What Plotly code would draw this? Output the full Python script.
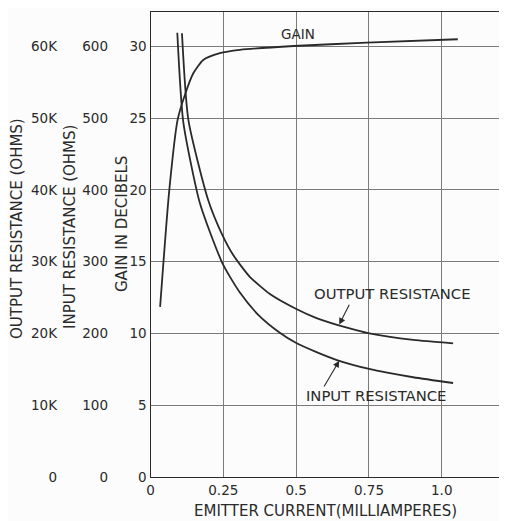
import plotly.graph_objects as go

# ---- data ----
current_gain = [0.033, 0.064, 0.093, 0.118, 0.147, 0.181, 0.238, 0.307, 0.492, 0.742, 1.055]
gain_db = [11.85, 19.88, 24.88, 26.62, 28.13, 29.06, 29.53, 29.76, 30.03, 30.26, 30.5]

current_in = [0.092, 0.1125, 0.170, 0.248, 0.307, 0.370, 0.444, 0.499, 0.570, 0.640, 0.747, 0.902, 1.039]
input_ohms = [619, 495, 381, 297, 257, 226, 201, 187, 174, 163, 151, 139, 131]

current_out = [0.108, 0.130, 0.198, 0.244, 0.284, 0.341, 0.410, 0.499, 0.570, 0.684, 0.747, 0.902, 1.039]
output_ohms = [61840, 49760, 38600, 33960, 30940, 27900, 25500, 23450, 22150, 20700, 20050, 19100, 18630]

x_ticks = [0, 0.25, 0.5, 0.75, 1.0]
x_ticktext = ["0", "0.25", "0.5", "0.75", "1.0"]
gain_ticks = [0, 5, 10, 15, 20, 25, 30]
input_ticks = [0, 100, 200, 300, 400, 500, 600]
output_ticks = [0, 10000, 20000, 30000, 40000, 50000, 60000]
output_ticktext = ["0", "10K", "20K", "30K", "40K", "50K", "60K"]

# page body adds an 8px offset; the figure is sized to fill the rest of the window
OFF = 8
W, H = 507 - OFF, 521 - OFF
FONT = "DejaVu Sans"
INK = "#2a2a2a"
GRID = "#7a7a7a"
BG = "#fcfcfc"

TOP, BOT = 12 - OFF, 477 - OFF          # plot area top / bottom (figure px)
LEFT, RIGHT = 150.5 - OFF, 500 - OFF    # plot area left / right (figure px)
PLOT_H = BOT - TOP


def px_x(ref_x):
    return (ref_x - OFF) / W


def px_y(ref_y):
    return (BOT - (ref_y - OFF)) / PLOT_H


fig = go.Figure()
line_style = dict(color=INK, width=1.8, shape="spline", smoothing=0.6)
fig.add_trace(go.Scatter(x=current_gain, y=gain_db, mode="lines", line=line_style,
                         yaxis="y", showlegend=False))
fig.add_trace(go.Scatter(x=current_in, y=input_ohms, mode="lines", line=line_style,
                         yaxis="y2", showlegend=False))
fig.add_trace(go.Scatter(x=current_out, y=output_ohms, mode="lines", line=line_style,
                         yaxis="y3", showlegend=False))

tick_font = dict(family=FONT, size=13.5, color=INK)

fig.update_layout(
    width=W, height=H,
    margin=dict(l=0, r=0, t=TOP, b=H - BOT, autoexpand=False),
    paper_bgcolor=BG, plot_bgcolor=BG,
    font=dict(family=FONT, color=INK),
    xaxis=dict(domain=[LEFT / W, RIGHT / W], range=[0, 1.2],
               tickvals=x_ticks, ticktext=x_ticktext, tickfont=tick_font,
               showgrid=True, gridcolor=GRID, gridwidth=1,
               showline=True, linecolor=INK, linewidth=1.2, mirror=True,
               ticks="", ticklabelstandoff=1, zeroline=False),
    yaxis=dict(range=[0, 32.4], tickvals=gain_ticks, tickfont=tick_font,
               showgrid=True, gridcolor=GRID, gridwidth=1,
               showline=True, linecolor=INK, linewidth=1.2,
               ticks="", zeroline=False),
    yaxis2=dict(range=[0, 648], tickvals=input_ticks, tickfont=tick_font,
                overlaying="y", anchor="free", position=px_x(108), side="left",
                showgrid=False, showline=False, ticks="", zeroline=False),
    yaxis3=dict(range=[0, 64800], tickvals=output_ticks, ticktext=output_ticktext,
                tickfont=tick_font,
                overlaying="y", anchor="free", position=px_x(57), side="left",
                showgrid=False, showline=False, ticks="", zeroline=False),
)

title_font = dict(family=FONT, size=15, color=INK)
label_font = dict(family=FONT, size=14.8, color=INK)
center = dict(xanchor="center", yanchor="middle", showarrow=False)

annotations = [
    dict(text="OUTPUT RESISTANCE (OHMS)", xref="paper", yref="paper", x=px_x(17), y=px_y(229),
         textangle=-90, font=title_font, **center),
    dict(text="INPUT RESISTANCE (OHMS)", xref="paper", yref="paper", x=px_x(70), y=px_y(227),
         textangle=-90, font=title_font, **center),
    dict(text="GAIN IN DECIBELS", xref="paper", yref="paper", x=px_x(122), y=px_y(224),
         textangle=-90, font=title_font, **center),
    dict(text="EMITTER CURRENT(MILLIAMPERES)", xref="paper", yref="paper", x=px_x(325),
         y=px_y(511), font=title_font, **center),
    dict(text="GAIN", xref="x", yref="y", x=0.506, y=30.84,
         font=dict(family=FONT, size=13.5, color=INK), **center),
    dict(text="OUTPUT RESISTANCE", xref="x", yref="y3", x=0.83, y=25540, font=label_font, **center),
    dict(text="INPUT RESISTANCE", xref="x", yref="y2", x=0.775, y=114, font=label_font, **center),
    dict(text="", xref="x", yref="y3", x=0.648, y=21250, axref="x", ayref="y3",
         ax=0.685, ay=24200, showarrow=True, arrowhead=2, arrowsize=1.2, arrowwidth=1.1,
         arrowcolor=INK),
    dict(text="", xref="x", yref="y2", x=0.648, y=162, axref="x", ayref="y2",
         ax=0.593, ay=124, showarrow=True, arrowhead=2, arrowsize=1.2, arrowwidth=1.1,
         arrowcolor=INK),
]
fig.update_layout(annotations=annotations)

fig.write_html("out.html")
